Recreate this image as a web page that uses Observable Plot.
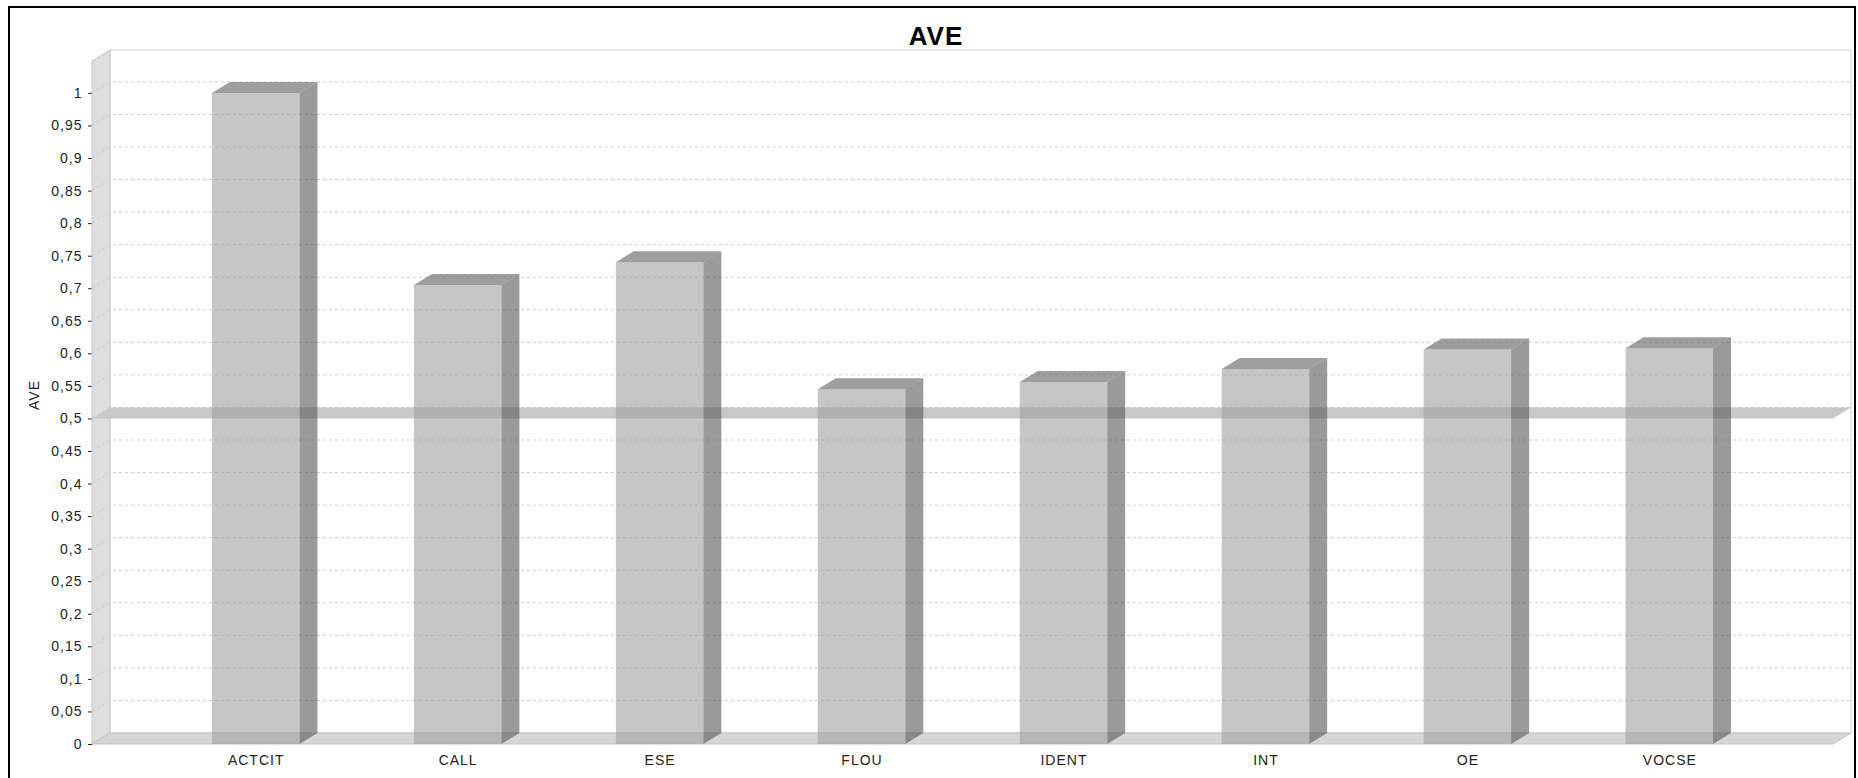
<!DOCTYPE html>
<html>
<head>
<meta charset="utf-8">
<script src="https://cdn.jsdelivr.net/npm/d3@7"></script>
<script src="https://cdn.jsdelivr.net/npm/@observablehq/plot@0.6"></script>
<style>
  html, body { margin: 0; padding: 0; background: #ffffff; }
  #chart svg { display: block; }
</style>
</head>
<body>
<div id="chart"></div>
<script>
// Chart content
const chartTitle = "AVE";
const valueAxisLabel = "AVE";
const categories = ["ACTCIT", "CALL", "ESE", "FLOU", "IDENT", "INT", "OE", "VOCSE"];
const aveValues = [1.0, 0.705, 0.74, 0.545, 0.556, 0.576, 0.606, 0.608];
const yTicks = [0, 0.05, 0.1, 0.15, 0.2, 0.25, 0.3, 0.35, 0.4, 0.45, 0.5,
                0.55, 0.6, 0.65, 0.7, 0.75, 0.8, 0.85, 0.9, 0.95, 1];
const yDomain = [0, 1.049];
const threshold = 0.5;

// Pseudo-3D depth of the plot box (screen pixels: right and up)
const DX = 18, DY = -11;

const rows = categories.map((category, i) => ({category, ave: aveValues[i]}));
const pts = (list) => list.map(p => p.join(",")).join(" ");
const commaFormat = d => String(d).replace(".", ",");

// Outer chart border (left, top and right edges; the bottom runs off the canvas)
function border(index, scales, values, dims) {
  return d3.create("svg:rect")
    .attr("x", 9).attr("y", 7)
    .attr("width", dims.width - 12).attr("height", dims.height)
    .attr("fill", "none").attr("stroke", "#000").attr("stroke-width", 2)
    .node();
}

// Back wall, left wall and floor of the 3D box
function box(index, {x, y}) {
  const [xa, xb] = x.range();
  const yb = y(yDomain[0]), yt = y(yDomain[1]);
  const g = d3.create("svg:g");
  g.append("polygon")
    .attr("points", pts([[xa + DX, yt + DY], [xb + DX, yt + DY], [xb + DX, yb + DY], [xa + DX, yb + DY]]))
    .attr("fill", "#ffffff").attr("stroke", "#cfcfcf");
  g.append("polygon")
    .attr("points", pts([[xa, yb], [xa, yt], [xa + DX, yt + DY], [xa + DX, yb + DY]]))
    .attr("fill", "#dedede").attr("stroke", "#c6c6c6");
  g.append("polygon")
    .attr("points", pts([[xa, yb], [xa + DX, yb + DY], [xb + DX, yb + DY], [xb, yb]]))
    .attr("fill", "#d6d6d6").attr("stroke", "#c2c2c2");
  return g.node();
}

// Dashed gridlines running across the left wall and the back wall
function grid(index, {x, y}) {
  const [xa, xb] = x.range();
  const g = d3.create("svg:g")
    .attr("fill", "none").attr("stroke", "#cccccc")
    .attr("stroke-dasharray", "3,3");
  for (const t of yTicks) {
    if (t === 0) continue;
    const v = y(t);
    g.append("polyline")
      .attr("points", pts([[xa, v], [xa + DX, v + DY], [xb + DX, v + DY]]));
  }
  return g.node();
}

// Threshold marker drawn as a flat plane through the box
function marker(index, {x, y}) {
  const [xa, xb] = x.range();
  const v = y(threshold);
  return d3.create("svg:polygon")
    .attr("points", pts([[xa, v], [xa + DX, v + DY], [xb + DX, v + DY], [xb, v]]))
    .attr("fill", "#c8c8c8")
    .node();
}

// Top and right side faces of each bar
function barFaces(index, {x, y}) {
  const bw = x.bandwidth();
  const y0 = y(0);
  const g = d3.create("svg:g").attr("fill-opacity", 0.6);
  for (const d of rows) {
    const x1 = x(d.category), x2 = x1 + bw, yv = y(d.ave);
    g.append("polygon")
      .attr("points", pts([[x2, yv], [x2 + DX, yv + DY], [x2 + DX, y0 + DY], [x2, y0]]))
      .attr("fill", "#575757");
    g.append("polygon")
      .attr("points", pts([[x1, yv], [x1 + DX, yv + DY], [x2 + DX, yv + DY], [x2, yv]]))
      .attr("fill", "#5d5d5d");
  }
  return g.node();
}

const chart = Plot.plot({
  width: 1858,
  height: 778,
  marginLeft: 92,
  marginRight: 25,
  marginTop: 61,
  marginBottom: 34,
  style: {fontFamily: "'Liberation Sans', Arial, sans-serif", fontSize: "14px", color: "#222222", background: "#ffffff"},
  x: {domain: categories, round: false, paddingInner: 0.5667, paddingOuter: 0.594, label: null, tickSize: 0, tickPadding: 11},
  y: {domain: yDomain, ticks: yTicks, tickFormat: commaFormat, tickSize: 4, tickPadding: 6, label: null},
  marks: [
    border,
    box,
    grid,
    marker,
    barFaces,
    Plot.barY(rows, {x: "category", y: "ave", fill: "#a0a0a0", fillOpacity: 0.6}),
    Plot.text([chartTitle], {frameAnchor: "top", dx: -27, dy: -35, fontSize: 26, fontWeight: "bold", fill: "#000"}),
    Plot.text([valueAxisLabel], {frameAnchor: "left", rotate: -90, dx: -58, dy: 7, fontSize: 14, fill: "#222"})
  ]
});

chart.querySelectorAll("g[aria-label='x-axis tick label'] text, g[aria-label='y-axis tick label'] text, g[aria-label='text'] text")
  .forEach(t => t.setAttribute("letter-spacing", "1"));
document.getElementById("chart").appendChild(chart);
</script>
</body>
</html>
